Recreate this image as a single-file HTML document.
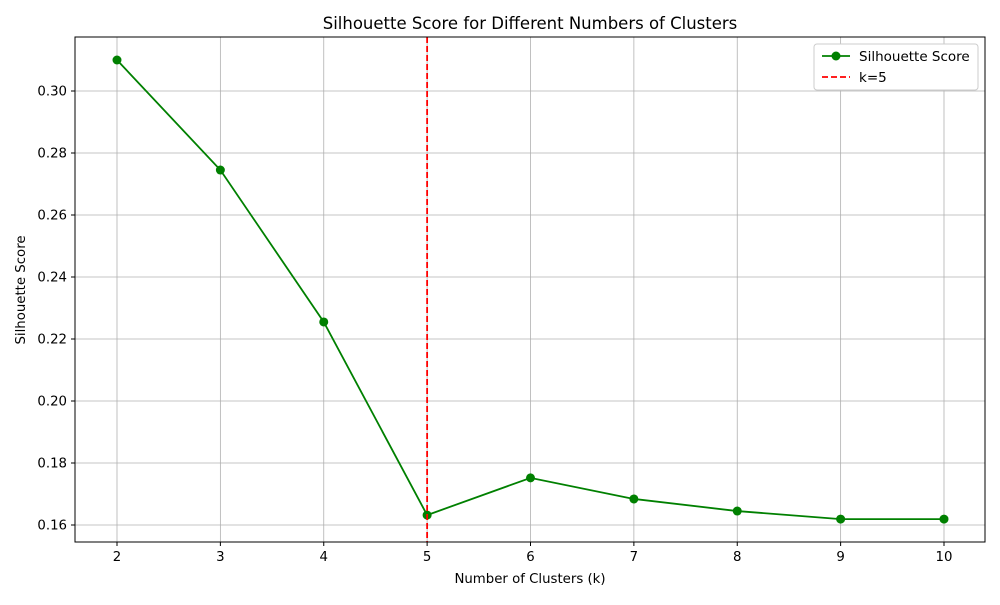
<!DOCTYPE html>
<html><head><meta charset="utf-8"><style>
body{margin:0;background:#fff;font-family:"Liberation Sans","DejaVu Sans",sans-serif;}
svg text{font-family:"DejaVu Sans","Liberation Sans",sans-serif;}
</style></head><body>
<svg id="chart" width="1000" height="600" xmlns="http://www.w3.org/2000/svg">
<rect x="0" y="0" width="1000" height="600" fill="#fff"/>
<g id="grid"></g>
<g id="ticks"></g>
<g id="series"></g>
<rect x="75" y="37" width="910" height="505" fill="none" stroke="#000" stroke-width="1"/>
<text x="530" y="29" font-size="16.5" text-anchor="middle">Silhouette Score for Different Numbers of Clusters</text>
<text x="530" y="583" font-size="13.3" text-anchor="middle">Number of Clusters (k)</text>
<text x="25" y="290" font-size="13.3" text-anchor="middle" transform="rotate(-90 25 290)">Silhouette Score</text>
<g>
<rect x="814" y="44" width="164" height="46" fill="#fff" stroke="#ccc" rx="3"/>
<g>
<line x1="822" y1="56" x2="850" y2="56" stroke="green" stroke-width="1.8"/>
<circle cx="836" cy="56" r="4.5" fill="green"/>
<text x="859" y="61" font-size="13.5">Silhouette Score</text></g>
<g>
<line x1="822" y1="77" x2="850" y2="77" stroke="red" stroke-width="1.8" stroke-dasharray="6,3"/>
<text x="859" y="82" font-size="13.5">k=5</text></g>
</g>
</svg>
<script>
const clusters=[2,3,4,5,6,7,8,9,10];
const scores=[0.310,0.2745,0.2255,0.1632,0.1752,0.1684,0.1645,0.1619,0.1619];
const yTicks=[0.16,0.18,0.20,0.22,0.24,0.26,0.28,0.30];
const yTickLabels=["0.16","0.18","0.20","0.22","0.24","0.26","0.28","0.30"];
const optimalK=5;
const NS="http://www.w3.org/2000/svg";
function xs(v){return 117+(v-2)*(944-117)/8;}
function ys(v){return 525-(v-0.16)*(525-91)/0.14;}
function mk(t,a,p){const e=document.createElementNS(NS,t);for(const k in a)e.setAttribute(k,a[k]);p.appendChild(e);return e;}
const grid=document.getElementById('grid'),ticks=document.getElementById('ticks'),series=document.getElementById('series');
clusters.forEach(k=>{const x=xs(k);
 const g=mk('line',{x1:x,x2:x,y1:37,y2:542,stroke:'#b0b0b0','stroke-width':0.8},grid);
 
 
 mk('line',{x1:x,x2:x,y1:542,y2:546,stroke:'#000'},ticks);
 const t=mk('text',{x:x,y:561,'font-size':13.3,'text-anchor':'middle'},ticks);t.textContent=k;
 
 
});
yTicks.forEach((v,i)=>{const y=ys(v);
 const g=mk('line',{x1:75,x2:985,y1:y,y2:y,stroke:'#b0b0b0','stroke-width':0.8},grid);
 
 
 mk('line',{x1:71,x2:75,y1:y,y2:y,stroke:'#000'},ticks);
 const t=mk('text',{x:67,y:y+4.5,'font-size':13.3,'text-anchor':'end'},ticks);t.textContent=yTickLabels[i];
 
 
});
const pts=clusters.map((k,i)=>xs(k)+','+ys(scores[i])).join(' ');
const pl=mk('polyline',{points:pts,fill:'none',stroke:'green','stroke-width':1.8},series);


clusters.forEach((k,i)=>{const c=mk('circle',{cx:xs(k),cy:ys(scores[i]),r:4.5,fill:'green'},series);
 
 
});
const vl=mk('line',{x1:xs(optimalK),x2:xs(optimalK),y1:37,y2:542,stroke:'red','stroke-width':1.8,'stroke-dasharray':'6,3'},series);


</script>
</body></html>
